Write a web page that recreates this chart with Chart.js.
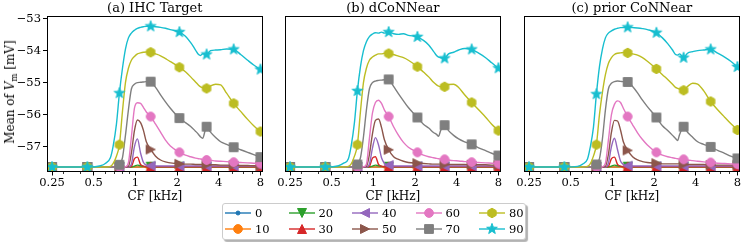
<!DOCTYPE html>
<html>
<head>
<meta charset="utf-8">
<script src="https://cdn.jsdelivr.net/npm/chart.js@4.4.1/dist/chart.umd.min.js"></script>
<style>
  body { margin: 0; background: #fff; }
  #wrap { position: relative; width: 748px; height: 242px; overflow: hidden; font-family: 'DejaVu Serif', serif; color: #000; }
  .panel { position: absolute; top: 0; }
  #ylab { position: absolute; left: 10px; top: 92px; transform: translate(-50%, -50%) rotate(-90deg); white-space: nowrap; font-size: 12px; }
  #ylab sub { font-size: 0.7em; vertical-align: -0.3em; line-height: 0; }
  #legend { position: absolute; left: 222px; top: 203px; width: 304px; height: 37px; box-sizing: border-box;
            border: 1px solid #cccccc; border-radius: 3px; background: #fff; box-shadow: 2px 2px 1px rgba(0,0,0,0.3); }
  #legend .item { position: absolute; display: flex; align-items: center; height: 14px; font-size: 11.5px; }
  #legend .item span { margin-left: 4px; }
</style>
</head>
<body>
<div id="wrap">
  <canvas id="pa" class="panel" width="268" height="210" style="left:0px"></canvas>
  <canvas id="pb" class="panel" width="268" height="210" style="left:238px"></canvas>
  <canvas id="pc" class="panel" width="268" height="210" style="left:477px"></canvas>
  <div id="ylab">Mean of <i>V</i><sub>m</sub> [mV]</div>
  <div id="legend"></div>
</div>
<script>
const cfKHz = [0.25, 0.45, 0.56, 0.61, 0.66, 0.69, 0.73, 0.767, 0.807, 0.848,
               0.891, 0.936, 0.985, 1.035, 1.09, 1.145, 1.2, 1.29, 1.4, 1.52,
               1.65, 1.79, 2.08, 2.3, 2.51, 2.72, 2.86, 2.96, 3.06, 3.27,
               3.49, 3.8, 4.13, 4.56, 5.13, 5.76, 6.47, 7.16, 8.0];
const markIdx = [0, 1, 7, 17, 22, 29, 34, 38];   // where markers sit
const levelsDb = ['0', '10', '20', '30', '40', '50', '60', '70', '80', '90'];
const xTickVals = [0.25, 0.5, 1, 2, 4, 8];
const xMinorVals = [0.3, 0.4, 0.6, 0.7, 0.8, 0.9, 3, 5, 6, 7];
const yTickVals = [-57, -56, -55, -54, -53];
const panelTitles = ['(a) IHC Target', '(b) dCoNNear', '(c) prior CoNNear'];

// 0 and 10 dB stay at rest potential in all three panels
const lvl0 = [-57.64,-57.64,-57.64,-57.64,-57.64,-57.64,-57.64,-57.64,-57.64,-57.64,
              -57.64,-57.64,-57.64,-57.64,-57.64,-57.64,-57.64,-57.64,-57.64,-57.64,
              -57.64,-57.64,-57.64,-57.64,-57.64,-57.64,-57.64,-57.64,-57.64,-57.64,
              -57.64,-57.64,-57.64,-57.64,-57.64,-57.64,-57.64,-57.64,-57.64];
const lvl10 = [-57.64,-57.64,-57.64,-57.64,-57.64,-57.64,-57.64,-57.64,-57.64,-57.64,
               -57.64,-57.64,-57.64,-57.64,-57.64,-57.64,-57.64,-57.64,-57.64,-57.64,
               -57.64,-57.64,-57.64,-57.64,-57.64,-57.64,-57.64,-57.64,-57.64,-57.64,
               -57.64,-57.64,-57.64,-57.64,-57.64,-57.64,-57.64,-57.64,-57.64];
const lvl20 = [-57.64,-57.64,-57.64,-57.64,-57.64,-57.64,-57.64,-57.64,-57.64,-57.64,
               -57.64,-57.64,-57.61,-57.58,-57.60,-57.62,-57.63,-57.63,-57.63,-57.63,
               -57.63,-57.63,-57.63,-57.63,-57.63,-57.63,-57.63,-57.63,-57.63,-57.63,
               -57.63,-57.63,-57.63,-57.63,-57.63,-57.63,-57.63,-57.63,-57.63];

// (a) IHC Target
const ihcTarget = [
  lvl0, lvl10, lvl20,
  [-57.64,-57.64,-57.64,-57.64,-57.64,-57.64,-57.64,-57.64,-57.64,-57.64,
   -57.64,-57.62,-57.38,-57.33,-57.56,-57.61,-57.63,-57.63,-57.63,-57.63,
   -57.63,-57.63,-57.63,-57.63,-57.63,-57.63,-57.63,-57.63,-57.63,-57.63,
   -57.63,-57.63,-57.63,-57.63,-57.63,-57.63,-57.63,-57.63,-57.63],
  [-57.64,-57.64,-57.64,-57.64,-57.64,-57.64,-57.64,-57.64,-57.64,-57.64,
   -57.64,-57.55,-57.00,-56.76,-57.20,-57.50,-57.58,-57.60,-57.61,-57.61,
   -57.61,-57.61,-57.61,-57.61,-57.61,-57.61,-57.61,-57.61,-57.61,-57.61,
   -57.61,-57.61,-57.61,-57.61,-57.61,-57.61,-57.61,-57.61,-57.61],
  [-57.64,-57.64,-57.64,-57.64,-57.64,-57.64,-57.64,-57.64,-57.64,-57.64,
   -57.62,-57.20,-56.50,-56.17,-56.25,-56.50,-56.85,-57.09,-57.30,-57.42,
   -57.48,-57.51,-57.54,-57.55,-57.55,-57.56,-57.56,-57.56,-57.56,-57.57,
   -57.57,-57.57,-57.58,-57.58,-57.58,-57.59,-57.59,-57.60,-57.60],
  [-57.64,-57.64,-57.64,-57.64,-57.64,-57.64,-57.64,-57.64,-57.64,-57.63,
   -57.50,-56.70,-55.80,-55.63,-55.65,-55.78,-55.92,-56.06,-56.30,-56.55,
   -56.80,-56.98,-57.18,-57.27,-57.32,-57.36,-57.38,-57.39,-57.40,-57.42,
   -57.43,-57.45,-57.46,-57.47,-57.49,-57.50,-57.51,-57.52,-57.53],
  [-57.64,-57.64,-57.64,-57.64,-57.64,-57.64,-57.63,-57.57,-57.35,-56.65,
   -55.85,-55.20,-55.05,-55.00,-54.99,-54.98,-54.97,-54.97,-55.15,-55.38,
   -55.60,-55.80,-56.11,-56.25,-56.37,-56.52,-56.62,-56.70,-56.74,-56.38,
   -56.55,-56.72,-56.85,-56.93,-57.02,-57.10,-57.18,-57.25,-57.33],
  [-57.64,-57.64,-57.64,-57.64,-57.62,-57.53,-57.30,-56.94,-55.90,-55.00,
   -54.55,-54.30,-54.18,-54.10,-54.07,-54.05,-54.04,-54.05,-54.10,-54.16,
   -54.25,-54.34,-54.52,-54.66,-54.82,-54.98,-55.08,-55.13,-55.16,-55.18,
   -55.10,-55.05,-55.07,-55.33,-55.65,-55.90,-56.15,-56.35,-56.53],
  [-57.64,-57.64,-57.60,-57.52,-57.35,-57.00,-56.30,-55.33,-54.55,-53.95,
   -53.60,-53.45,-53.36,-53.30,-53.27,-53.25,-53.24,-53.24,-53.25,-53.27,
   -53.30,-53.34,-53.42,-53.55,-53.75,-53.98,-54.12,-54.15,-54.10,-54.12,
   -54.00,-53.98,-53.97,-53.95,-53.96,-54.12,-54.30,-54.45,-54.59]
];

// (b) dCoNNear
const dCoNNear = [
  lvl0, lvl10, lvl20,
  [-57.64,-57.64,-57.64,-57.64,-57.64,-57.64,-57.64,-57.64,-57.64,-57.64,
   -57.64,-57.62,-57.36,-57.32,-57.56,-57.61,-57.63,-57.63,-57.63,-57.63,
   -57.63,-57.63,-57.63,-57.63,-57.63,-57.63,-57.63,-57.63,-57.63,-57.63,
   -57.63,-57.63,-57.63,-57.63,-57.63,-57.63,-57.63,-57.63,-57.63],
  [-57.64,-57.64,-57.64,-57.64,-57.64,-57.64,-57.64,-57.64,-57.64,-57.64,
   -57.64,-57.55,-57.05,-56.72,-56.95,-57.35,-57.52,-57.58,-57.61,-57.61,
   -57.61,-57.61,-57.61,-57.61,-57.61,-57.61,-57.61,-57.61,-57.61,-57.61,
   -57.61,-57.61,-57.61,-57.61,-57.61,-57.61,-57.61,-57.61,-57.61],
  [-57.64,-57.64,-57.64,-57.64,-57.64,-57.64,-57.64,-57.64,-57.64,-57.64,
   -57.62,-57.25,-56.60,-56.18,-56.14,-56.40,-56.78,-57.10,-57.32,-57.40,
   -57.46,-57.50,-57.52,-57.53,-57.54,-57.55,-57.55,-57.55,-57.55,-57.56,
   -57.56,-57.56,-57.56,-57.56,-57.57,-57.57,-57.57,-57.58,-57.58],
  [-57.64,-57.64,-57.64,-57.64,-57.64,-57.64,-57.64,-57.64,-57.64,-57.63,
   -57.55,-56.75,-55.95,-55.62,-55.55,-55.65,-55.85,-56.06,-56.38,-56.65,
   -56.87,-57.02,-57.18,-57.27,-57.32,-57.35,-57.37,-57.38,-57.39,-57.40,
   -57.42,-57.44,-57.45,-57.47,-57.49,-57.50,-57.51,-57.52,-57.53],
  [-57.64,-57.64,-57.64,-57.64,-57.64,-57.64,-57.63,-57.56,-57.35,-56.70,
   -55.85,-55.20,-55.00,-54.95,-54.93,-54.92,-54.91,-54.90,-55.12,-55.35,
   -55.57,-55.78,-56.09,-56.30,-56.42,-56.56,-56.62,-56.68,-56.50,-56.33,
   -56.50,-56.65,-56.76,-56.85,-56.93,-57.04,-57.13,-57.21,-57.28],
  [-57.64,-57.64,-57.64,-57.64,-57.62,-57.55,-57.30,-56.94,-55.90,-55.00,
   -54.55,-54.30,-54.20,-54.14,-54.10,-54.10,-54.08,-54.09,-54.12,-54.17,
   -54.22,-54.30,-54.50,-54.67,-54.82,-54.99,-55.07,-55.11,-55.13,-55.13,
   -55.06,-55.05,-55.15,-55.38,-55.62,-55.85,-56.08,-56.30,-56.50],
  [-57.64,-57.64,-57.60,-57.52,-57.38,-57.00,-56.25,-55.26,-54.50,-54.00,
   -53.72,-53.56,-53.48,-53.44,-53.45,-53.42,-53.45,-53.42,-53.47,-53.49,
   -53.47,-53.52,-53.57,-53.68,-53.82,-54.02,-54.15,-54.20,-54.22,-54.24,
   -54.10,-54.05,-53.98,-53.93,-53.96,-54.08,-54.22,-54.38,-54.55]
];

// (c) prior CoNNear
const priorCoNNear = [
  lvl0, lvl10, lvl20,
  [-57.64,-57.64,-57.64,-57.64,-57.64,-57.64,-57.64,-57.64,-57.64,-57.64,
   -57.64,-57.62,-57.38,-57.33,-57.56,-57.61,-57.63,-57.63,-57.63,-57.63,
   -57.63,-57.63,-57.63,-57.63,-57.63,-57.63,-57.63,-57.63,-57.63,-57.63,
   -57.63,-57.63,-57.63,-57.63,-57.63,-57.63,-57.63,-57.63,-57.63],
  [-57.64,-57.64,-57.64,-57.64,-57.64,-57.64,-57.64,-57.64,-57.64,-57.64,
   -57.64,-57.52,-57.00,-56.74,-57.10,-57.45,-57.56,-57.60,-57.61,-57.61,
   -57.61,-57.61,-57.61,-57.61,-57.61,-57.61,-57.61,-57.61,-57.61,-57.61,
   -57.61,-57.61,-57.61,-57.61,-57.61,-57.61,-57.61,-57.61,-57.61],
  [-57.64,-57.64,-57.64,-57.64,-57.64,-57.64,-57.64,-57.64,-57.64,-57.64,
   -57.62,-57.25,-56.55,-56.18,-56.20,-56.48,-56.85,-57.12,-57.32,-57.42,
   -57.47,-57.50,-57.52,-57.54,-57.54,-57.54,-57.54,-57.54,-57.54,-57.56,
   -57.56,-57.56,-57.56,-57.56,-57.58,-57.58,-57.58,-57.58,-57.58],
  [-57.64,-57.64,-57.64,-57.64,-57.64,-57.64,-57.64,-57.64,-57.64,-57.63,
   -57.52,-56.80,-56.00,-55.68,-55.57,-55.62,-55.80,-56.06,-56.32,-56.57,
   -56.78,-56.95,-57.18,-57.27,-57.32,-57.35,-57.37,-57.38,-57.39,-57.40,
   -57.42,-57.44,-57.46,-57.48,-57.50,-57.52,-57.53,-57.54,-57.55],
  [-57.64,-57.64,-57.64,-57.64,-57.64,-57.64,-57.63,-57.56,-57.38,-56.75,
   -55.85,-55.20,-55.02,-54.97,-54.95,-54.96,-54.97,-54.98,-55.12,-55.32,
   -55.55,-55.75,-56.09,-56.35,-56.50,-56.65,-56.75,-56.81,-56.62,-56.38,
   -56.55,-56.71,-56.85,-56.93,-57.01,-57.12,-57.21,-57.30,-57.37],
  [-57.64,-57.64,-57.64,-57.64,-57.62,-57.55,-57.30,-56.94,-56.00,-55.30,
   -54.75,-54.40,-54.22,-54.12,-54.08,-54.07,-54.06,-54.07,-54.10,-54.14,
   -54.22,-54.33,-54.57,-54.75,-54.90,-55.05,-55.15,-55.18,-55.20,-55.24,
   -55.12,-55.02,-55.05,-55.25,-55.59,-55.85,-56.08,-56.28,-56.48],
  [-57.64,-57.64,-57.62,-57.55,-57.40,-57.05,-56.40,-55.36,-54.50,-53.95,
   -53.60,-53.45,-53.38,-53.33,-53.30,-53.28,-53.28,-53.27,-53.28,-53.29,
   -53.31,-53.34,-53.44,-53.60,-53.78,-53.98,-54.12,-54.14,-54.10,-54.22,
   -54.08,-54.03,-54.00,-53.98,-53.96,-54.08,-54.20,-54.33,-54.51]
];

const colors = ['#1f77b4', '#ff7f0e', '#2ca02c', '#d62728', '#9467bd',
                '#8c564b', '#e377c2', '#7f7f7f', '#bcbd22', '#17becf'];
const shapes = ['point', 'circle', 'triDown', 'triUp', 'triLeft',
                'triRight', 'circle', 'square', 'hexagon', 'star'];

// matplotlib-like filled markers as small canvases
function markerCanvas(shape, color) {
  const s = 14, c = s / 2;
  const cv = document.createElement('canvas');
  cv.width = s; cv.height = s;
  const g = cv.getContext('2d');
  g.fillStyle = color; g.strokeStyle = color; g.lineWidth = 1;
  g.beginPath();
  const poly = pts => {
    pts.forEach(([x, y], i) => i ? g.lineTo(c + x, c + y) : g.moveTo(c + x, c + y));
    g.closePath();
  };
  if (shape === 'point') {
    g.arc(c, c, 2, 0, Math.PI * 2);
  } else if (shape === 'circle') {
    g.arc(c, c, 4.4, 0, Math.PI * 2);
  } else if (shape === 'square') {
    g.rect(c - 4.4, c - 4.4, 8.8, 8.8);
  } else if (shape.startsWith('tri')) {
    const r = 4.5;
    const rot = {triUp: 0, triRight: 90, triDown: 180, triLeft: 270}[shape] * Math.PI / 180;
    poly([[0, -r], [r, r], [-r, r]].map(([x, y]) =>
      [x * Math.cos(rot) - y * Math.sin(rot), x * Math.sin(rot) + y * Math.cos(rot)]));
  } else if (shape === 'hexagon') {
    const pts = [];
    for (let k = 0; k < 6; k++) {
      const a = (-90 + k * 60) * Math.PI / 180;
      pts.push([4.8 * Math.cos(a), 4.8 * Math.sin(a)]);
    }
    poly(pts);
  } else if (shape === 'star') {
    const pts = [];
    for (let k = 0; k < 10; k++) {
      const a = (-90 + k * 36) * Math.PI / 180;
      const r = k % 2 ? 2.3 : 5.6;
      pts.push([r * Math.cos(a), r * Math.sin(a)]);
    }
    poly(pts);
  }
  g.fill(); g.stroke();
  return cv;
}
const markers = shapes.map((sh, i) => markerCanvas(sh, colors[i]));

Chart.defaults.font.family = "'DejaVu Serif', serif";
Chart.defaults.color = '#000';

// box round the plot and the small log ticks
const framePlugin = {
  id: 'frame',
  afterDatasetsDraw(chart) {
    const {ctx, chartArea: a} = chart;
    const l = Math.round(a.left) + 0.5, r = Math.round(a.right) - 0.5;
    const t = Math.round(a.top) + 0.5, b = Math.round(a.bottom) - 0.5;
    ctx.save();
    ctx.strokeStyle = '#000';
    ctx.lineWidth = 1;
    ctx.strokeRect(l, t, r - l, b - t);
    ctx.beginPath();
    xMinorVals.forEach(v => {
      const px = Math.round(chart.scales.x.getPixelForValue(v)) + 0.5;
      ctx.moveTo(px, b);
      ctx.lineTo(px, b + 2.5);
    });
    ctx.lineWidth = 0.8;
    ctx.stroke();
    ctx.restore();
  }
};

function buildPanel(id, title, series, showY) {
  new Chart(document.getElementById(id), {
    type: 'line',
    data: {
      datasets: series.map((vals, i) => ({
        label: levelsDb[i],
        data: vals.map((v, j) => ({x: cfKHz[j], y: v})),
        borderColor: colors[i],
        backgroundColor: colors[i],
        borderWidth: 1.4,
        pointStyle: markers[i],
        pointRadius: ctx => markIdx.includes(ctx.dataIndex) ? 4 : 0,
        cubicInterpolationMode: 'monotone',
        fill: false,
        order: 9 - i
      }))
    },
    options: {
      responsive: false,
      animation: false,
      events: [],
      layout: {padding: {left: 0, right: 5, top: 0, bottom: 0}},
      plugins: {
        legend: {display: false},
        tooltip: {enabled: false},
        title: {
          display: true, text: title, fullSize: false, color: '#000',
          font: {size: 13, weight: 'normal', lineHeight: 1},
          padding: {top: 2.5, bottom: 0}
        }
      },
      scales: {
        x: {
          type: 'logarithmic', min: 0.23, max: 8.3, bounds: 'data',
          afterBuildTicks: s => { s.ticks = xTickVals.map(v => ({value: v})); },
          afterFit: s => { s.height = 38.5; },
          ticks: {callback: v => String(v), font: {size: 11.5}, padding: 1,
                  maxRotation: 0, autoSkip: false, color: '#000'},
          grid: {drawOnChartArea: false, drawTicks: true, tickLength: 4, tickColor: '#000'},
          border: {display: false},
          title: {display: true, text: 'CF [kHz]', color: '#000',
                  font: {size: 12}, padding: {top: 0, bottom: 6}}
        },
        y: {
          min: -57.78, max: -52.9, bounds: 'data',
          afterBuildTicks: s => { s.ticks = yTickVals.map(v => ({value: v})); },
          afterFit: s => { s.width = 47; },
          ticks: {display: showY, callback: v => '\u2212' + Math.abs(v),
                  font: {size: 11.5}, padding: 2, color: '#000'},
          grid: {drawOnChartArea: false, drawTicks: showY, tickLength: 4, tickColor: '#000'},
          border: {display: false}
        }
      }
    },
    plugins: [framePlugin]
  });
}

buildPanel('pa', panelTitles[0], ihcTarget, true);
buildPanel('pb', panelTitles[1], dCoNNear, false);
buildPanel('pc', panelTitles[2], priorCoNNear, false);

// legend, 5 columns filled column by column
const legendEl = document.getElementById('legend');
levelsDb.forEach((lv, i) => {
  const col = Math.floor(i / 2), row = i % 2;
  const item = document.createElement('div');
  item.className = 'item';
  item.style.left = (2 + col * 63.5) + 'px';
  item.style.top = (1.7 + row * 16) + 'px';
  const cv = document.createElement('canvas');
  cv.width = 26; cv.height = 14;
  const g = cv.getContext('2d');
  g.strokeStyle = colors[i];
  g.lineWidth = 1.4;
  g.beginPath(); g.moveTo(0, 7); g.lineTo(26, 7); g.stroke();
  g.drawImage(markers[i], 6, 0);
  const span = document.createElement('span');
  span.textContent = lv;
  item.append(cv, span);
  legendEl.appendChild(item);
});
</script>
</body>
</html>
